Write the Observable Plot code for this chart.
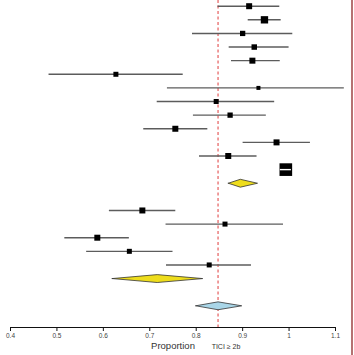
<!DOCTYPE html>
<html><head><meta charset="utf-8">
<script src="https://cdn.jsdelivr.net/npm/d3@7"></script>
<script src="https://cdn.jsdelivr.net/npm/@observablehq/plot@0.6"></script>
<style>
body{margin:0;background:#fff}
#wrap{position:relative;width:354px;height:355px}
#edge{position:absolute;left:351px;top:0;width:2px;height:355px;background:#b57272}
</style>
</head><body><div id="wrap"><div id="edge"></div></div>
<script>
// Studies (row index from top), proportion estimate and CI, weight
const studyRow    = [0,1,2,3,4,5,6,7,8,9,10,11,12,15,16,17,18,19];
const studyEst    = [0.914,0.947,0.900,0.925,0.921,0.627,0.934,0.843,0.873,0.755,0.973,0.869,0.993,0.684,0.862,0.587,0.656,0.828];
const studyLo     = [0.847,0.912,0.792,0.871,0.876,0.483,0.738,0.716,0.794,0.687,0.901,0.807,0.981,0.613,0.735,0.517,0.564,0.736];
const studyHi     = [0.980,0.983,1.008,1.000,0.981,0.772,1.119,0.969,0.951,0.825,1.046,0.931,1.005,0.756,0.988,0.656,0.750,0.919];
const studyWeight = [36,54,28,30,36,25,16,25,28,36,36,36,160,36,25,36,25,25];

// Pooled (summary) estimates
const summaryRow = [13,20,22];
const summaryEst = [0.895,0.716,0.847];
const summaryLo  = [0.869,0.619,0.799];
const summaryHi  = [0.932,0.814,0.898];

const refValue = 0.847;
const xTicks = [0.4,0.5,0.6,0.7,0.8,0.9,1,1.1];
const xTickLabels = ["0.4","0.5","0.6","0.7","0.8","0.9","1","1.1"];
const xLabel = "Proportion";
const outcomeLabel = "TICI \u2265 2b";

const studies = studyRow.map((row,i)=>({row, est:studyEst[i], lo:studyLo[i], hi:studyHi[i], w:studyWeight[i]}));
const h = 0.29;
const diamondFill = ["#eedd1c","#eedd1c","#a9d6e8"];
const diamondMarks = summaryRow.map((row,i)=>{
  const v = [
    {x:summaryLo[i], y:row},{x:summaryEst[i], y:row-h},{x:summaryHi[i], y:row},
    {x:summaryEst[i], y:row+h},{x:summaryLo[i], y:row}];
  return Plot.line(v, {x:"x", y:"y", fill:diamondFill[i], stroke:"#333", strokeWidth:0.8, curve:"linear"});
});

const chart = Plot.plot({
  width:354, height:355,
  marginLeft:10, marginRight:19, marginTop:0, marginBottom:28,
  style:{fontFamily:"'Liberation Sans', Arial, sans-serif", background:"transparent"},
  x:{domain:[0.4,1.1], axis:null},
  y:{domain:[0,22], range:[5.7,305.3], axis:null},
  r:{type:"sqrt", domain:[0,144], range:[0,6.77]},
  marks:[
    Plot.ruleX([refValue], {stroke:"#e03a3a", strokeWidth:1, strokeDasharray:"3,2.5"}),
    Plot.ruleY(studies, {y:"row", x1:"lo", x2:"hi", stroke:"#5c5c5c", strokeWidth:1.4}),
    Plot.dot(studies, {x:"est", y:"row", r:"w", symbol:"square", fill:"#000"}),
    Plot.ruleY(studies.filter(d=>d.hi-d.lo<0.03), {y:"row", x1:"lo", x2:"hi", stroke:"#fff", strokeWidth:1.4}),
    ...diamondMarks,
    Plot.frame({anchor:"bottom", stroke:"#111"}),
    Plot.axisX(xTicks, {anchor:"bottom", tickSize:4, text:null, stroke:"#111", label:null}),
    Plot.axisX(xTicks, {anchor:"bottom", tickSize:0, tickPadding:6, fontSize:6.5, color:"#444", fill:"#444",
      tickFormat:d=>xTickLabels[xTicks.indexOf(d)], label:null}),
    Plot.text([xLabel], {text:d=>d, frameAnchor:"bottom", dy:21, fontSize:9.5, fill:"#333"}),
    Plot.text([outcomeLabel], {text:d=>d, frameAnchor:"bottom", dy:21, dx:53, fontSize:7, fill:"#333"})
  ]
});
document.getElementById("wrap").prepend(chart);
</script>
</body></html>
